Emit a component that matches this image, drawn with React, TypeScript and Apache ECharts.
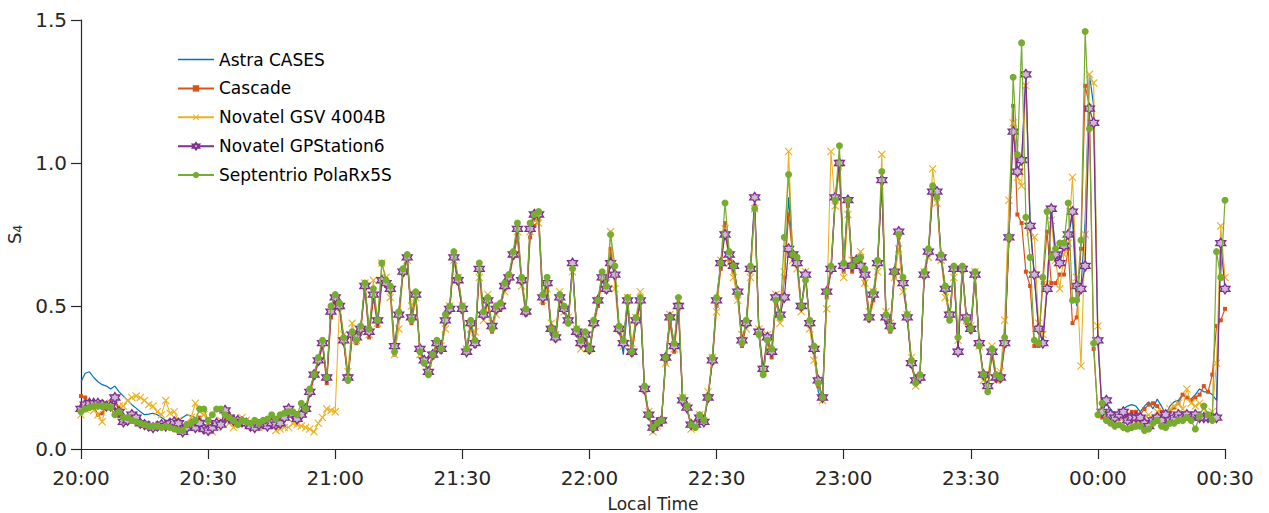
import React, { useEffect, useRef } from "react";
import * as echarts from "echarts";

// Minutes after 20:00 local time are the array indices (one sample per minute).
const seriesNames = [
  "Astra CASES",
  "Cascade",
  "Novatel GSV 4004B",
  "Novatel GPStation6",
  "Septentrio PolaRx5S",
];

const xTickLabels = ["20:00", "20:30", "21:00", "21:30", "22:00", "22:30", "23:00", "23:30", "00:00", "00:30"];

const astraValues = [
  0.235, 0.265, 0.27, 0.25, 0.235, 0.225, 0.22, 0.21, 0.22, 0.2,
  0.185, 0.17, 0.155, 0.143, 0.13, 0.12, 0.122, 0.125, 0.12, 0.11,
  0.1, 0.1, 0.1, 0.1, 0.11, 0.12, 0.115, 0.11, 0.1, 0.1,
  0.09, 0.095, 0.1, 0.095, 0.12, 0.115, 0.1, 0.1, 0.1, 0.095,
  0.09, 0.09, 0.095, 0.1, 0.095, 0.1, 0.1, 0.1, 0.12, 0.14,
  0.13, 0.115, 0.13, 0.14, 0.2, 0.26, 0.31, 0.37, 0.24, 0.48,
  0.53, 0.5, 0.38, 0.25, 0.41, 0.37, 0.42, 0.57, 0.4, 0.55,
  0.44, 0.6, 0.59, 0.56, 0.35, 0.48, 0.62, 0.67, 0.46, 0.54,
  0.34, 0.31, 0.27, 0.33, 0.37, 0.35, 0.46, 0.49, 0.67, 0.58,
  0.49, 0.35, 0.44, 0.38, 0.63, 0.47, 0.52, 0.43, 0.49, 0.5,
  0.57, 0.6, 0.68, 0.75, 0.59, 0.48, 0.76, 0.8, 0.8, 0.52,
  0.58, 0.42, 0.4, 0.53, 0.49, 0.45, 0.64, 0.41, 0.37, 0.39,
  0.33, 0.44, 0.51, 0.61, 0.57, 0.68, 0.62, 0.42, 0.33, 0.5,
  0.34, 0.45, 0.5, 0.21, 0.12, 0.07, 0.085, 0.1, 0.31, 0.45,
  0.36, 0.5, 0.17, 0.14, 0.08, 0.075, 0.11, 0.09, 0.18, 0.31,
  0.51, 0.64, 0.78, 0.68, 0.63, 0.55, 0.37, 0.44, 0.63, 0.86,
  0.4, 0.26, 0.38, 0.33, 0.52, 0.46, 0.6, 0.88, 0.68, 0.66,
  0.49, 0.6, 0.44, 0.34, 0.2, 0.17, 0.54, 0.62, 0.87, 1.0,
  0.64, 0.86, 0.64, 0.66, 0.64, 0.6, 0.47, 0.53, 0.65, 0.93,
  0.46, 0.42, 0.62, 0.75, 0.59, 0.47, 0.3, 0.23, 0.25, 0.6,
  0.69, 0.9, 0.9, 0.67, 0.56, 0.45, 0.63, 0.36, 0.63, 0.45,
  0.41, 0.61, 0.37, 0.25, 0.21, 0.34, 0.25, 0.25, 0.38, 0.74,
  1.15, 0.98, 1.0, 1.3, 0.8, 0.6, 0.42, 0.38, 0.56, 0.84,
  0.7, 0.66, 0.72, 0.74, 0.82, 0.5, 0.56, 0.8, 1.31, 1.2,
  0.38, 0.13, 0.16, 0.14, 0.12, 0.13, 0.14, 0.15, 0.155, 0.15,
  0.13, 0.15, 0.165, 0.14, 0.175, 0.15, 0.12, 0.15, 0.165, 0.17,
  0.19, 0.18, 0.175, 0.19, 0.21, 0.2, 0.2, 0.19, 0.17, 0.72,
  0.72,
];

const cascadeValues = [
  0.185, 0.18, 0.16, 0.15, 0.12, 0.125, 0.15, 0.14, 0.12, 0.115,
  0.1, 0.1, 0.11, 0.105, 0.09, 0.085, 0.08, 0.08, 0.085, 0.08,
  0.085, 0.09, 0.09, 0.085, 0.07, 0.08, 0.08, 0.09, 0.11, 0.08,
  0.075, 0.08, 0.09, 0.09, 0.1, 0.105, 0.1, 0.095, 0.09, 0.09,
  0.085, 0.08, 0.09, 0.095, 0.08, 0.09, 0.09, 0.1, 0.11, 0.13,
  0.12, 0.1, 0.12, 0.13, 0.19, 0.25, 0.3, 0.36, 0.23, 0.46,
  0.52, 0.49, 0.37, 0.24, 0.39, 0.37, 0.41, 0.56, 0.39, 0.53,
  0.43, 0.58, 0.57, 0.55, 0.33, 0.46, 0.61, 0.66, 0.44, 0.53,
  0.34, 0.3, 0.26, 0.32, 0.36, 0.34, 0.44, 0.48, 0.66, 0.58,
  0.48, 0.34, 0.43, 0.36, 0.62, 0.46, 0.51, 0.41, 0.48, 0.49,
  0.56, 0.59, 0.67, 0.74, 0.58, 0.47, 0.74, 0.78, 0.8, 0.51,
  0.56, 0.41, 0.38, 0.52, 0.48, 0.44, 0.63, 0.4, 0.36, 0.39,
  0.34, 0.43, 0.5, 0.59, 0.55, 0.7, 0.6, 0.41, 0.36, 0.51,
  0.33, 0.44, 0.51, 0.2, 0.11, 0.07, 0.085, 0.1, 0.3, 0.44,
  0.34, 0.49, 0.16, 0.14, 0.08, 0.08, 0.12, 0.1, 0.19, 0.3,
  0.5, 0.63, 0.79, 0.66, 0.62, 0.53, 0.36, 0.43, 0.62, 0.85,
  0.4, 0.27, 0.38, 0.32, 0.51, 0.46, 0.6, 0.82, 0.67, 0.64,
  0.49, 0.6, 0.43, 0.34, 0.22, 0.18, 0.53, 0.62, 0.86, 0.98,
  0.62, 0.85, 0.62, 0.64, 0.63, 0.58, 0.45, 0.52, 0.64, 0.93,
  0.45, 0.41, 0.6, 0.74, 0.58, 0.46, 0.29, 0.23, 0.25, 0.6,
  0.68, 0.89, 0.88, 0.66, 0.55, 0.45, 0.62, 0.35, 0.62, 0.44,
  0.41, 0.6, 0.36, 0.25, 0.21, 0.33, 0.24, 0.24, 0.36, 0.73,
  1.2, 0.82, 0.79, 0.62, 0.57, 0.36, 0.36, 0.58, 0.76, 0.58,
  0.58, 0.61, 0.61, 0.7, 0.44, 0.46, 0.7, 1.27, 1.2, 0.35,
  0.12, 0.11, 0.11, 0.12, 0.11, 0.12, 0.11, 0.12, 0.13, 0.13,
  0.12, 0.14, 0.155, 0.16, 0.15, 0.13, 0.12, 0.13, 0.145, 0.16,
  0.19, 0.18, 0.17, 0.18, 0.19, 0.22, 0.2, 0.26, 0.43, 0.45,
  0.49,
];

const gsvValues = [
  0.12, 0.14, 0.15, 0.135, 0.12, 0.095, 0.16, 0.16, 0.155, 0.15,
  0.15, 0.17, 0.18, 0.185, 0.18, 0.17, 0.155, 0.15, 0.13, 0.12,
  0.17, 0.125, 0.13, 0.1, 0.085, 0.085, 0.11, 0.16, 0.13, 0.12,
  0.09, 0.06, 0.075, 0.1, 0.11, 0.09, 0.075, 0.09, 0.11, 0.1,
  0.09, 0.08, 0.075, 0.08, 0.09, 0.085, 0.065, 0.07, 0.075, 0.075,
  0.09, 0.085, 0.08, 0.075, 0.07, 0.06, 0.09, 0.11, 0.14, 0.135,
  0.13, 0.5, 0.4, 0.27, 0.44, 0.38, 0.41, 0.58, 0.4, 0.59,
  0.44, 0.65, 0.6, 0.53, 0.33, 0.42, 0.62, 0.66, 0.5, 0.53,
  0.33, 0.31, 0.28, 0.33, 0.36, 0.36, 0.42, 0.5, 0.66, 0.6,
  0.5, 0.35, 0.42, 0.41, 0.6, 0.45, 0.54, 0.44, 0.47, 0.5,
  0.55, 0.6, 0.68, 0.76, 0.57, 0.48, 0.76, 0.8, 0.79, 0.52,
  0.56, 0.44, 0.4, 0.55, 0.48, 0.46, 0.62, 0.42, 0.35, 0.4,
  0.35, 0.44, 0.52, 0.6, 0.58, 0.76, 0.56, 0.42, 0.36, 0.53,
  0.37, 0.46, 0.55, 0.21, 0.13, 0.06, 0.08, 0.1, 0.3, 0.47,
  0.35, 0.52, 0.18, 0.15, 0.07, 0.09, 0.12, 0.1, 0.2, 0.32,
  0.48, 0.66, 0.77, 0.65, 0.6, 0.52, 0.4, 0.42, 0.6, 0.84,
  0.42, 0.28, 0.4, 0.34, 0.54, 0.44, 0.62, 1.04, 0.66, 0.63,
  0.48, 0.62, 0.42, 0.31, 0.24, 0.17, 0.49, 1.04, 0.85, 1.0,
  0.6, 0.82, 0.66, 0.65, 0.69, 0.58, 0.48, 0.55, 0.62, 1.03,
  0.48, 0.44, 0.6, 0.7, 0.55, 0.47, 0.32, 0.22, 0.25, 0.62,
  0.67, 0.98, 0.86, 0.66, 0.53, 0.47, 0.6, 0.38, 0.63, 0.45,
  0.43, 0.62, 0.36, 0.24, 0.25, 0.36, 0.24, 0.27, 0.45, 0.87,
  1.14, 0.95, 0.92, 1.27, 0.76, 0.74, 0.44, 0.4, 0.58, 0.8,
  0.66, 0.56, 0.68, 0.72, 0.95, 0.6, 0.29, 0.75, 1.31, 1.28,
  0.43, 0.12, 0.13, 0.11, 0.1, 0.11, 0.12, 0.1, 0.08, 0.09,
  0.1, 0.11, 0.12, 0.1, 0.13, 0.12, 0.11, 0.14, 0.15, 0.16,
  0.14, 0.21, 0.16, 0.15, 0.16, 0.14, 0.12, 0.13, 0.3, 0.78,
  0.6,
];

const gpStationValues = [
  0.14, 0.155, 0.16, 0.16, 0.16, 0.155, 0.15, 0.15, 0.18, 0.13,
  0.095, 0.1, 0.12, 0.11, 0.09, 0.085, 0.08, 0.075, 0.08, 0.085,
  0.08, 0.09, 0.095, 0.09, 0.06, 0.075, 0.085, 0.075, 0.09, 0.07,
  0.065, 0.075, 0.09, 0.085, 0.135, 0.11, 0.1, 0.1, 0.095, 0.09,
  0.08, 0.075, 0.085, 0.09, 0.08, 0.09, 0.085, 0.09, 0.11, 0.14,
  0.12, 0.105, 0.12, 0.14, 0.2, 0.26, 0.31, 0.37, 0.25, 0.48,
  0.53, 0.5, 0.38, 0.25, 0.4, 0.39, 0.42, 0.57, 0.41, 0.54,
  0.45, 0.59, 0.58, 0.56, 0.36, 0.47, 0.62, 0.67, 0.46, 0.54,
  0.35, 0.31, 0.27, 0.33, 0.37, 0.35, 0.45, 0.49, 0.67, 0.59,
  0.49, 0.34, 0.44, 0.37, 0.63, 0.47, 0.52, 0.43, 0.49, 0.5,
  0.57, 0.6, 0.68, 0.77, 0.59, 0.48, 0.77, 0.82, 0.82, 0.53,
  0.58, 0.42, 0.39, 0.53, 0.49, 0.45, 0.65, 0.41, 0.37, 0.4,
  0.35, 0.44, 0.52, 0.6, 0.56, 0.65, 0.61, 0.42, 0.37, 0.52,
  0.34, 0.45, 0.52, 0.21, 0.12, 0.075, 0.09, 0.1, 0.32, 0.46,
  0.36, 0.5, 0.17, 0.145, 0.085, 0.085, 0.11, 0.095, 0.18, 0.31,
  0.52, 0.65, 0.75, 0.68, 0.64, 0.55, 0.38, 0.44, 0.63, 0.88,
  0.41, 0.28, 0.39, 0.34, 0.53, 0.47, 0.53, 0.7, 0.68, 0.65,
  0.5, 0.61, 0.44, 0.35, 0.24, 0.18, 0.55, 0.63, 0.88, 1.0,
  0.64, 0.87, 0.64, 0.66, 0.64, 0.61, 0.46, 0.54, 0.65, 0.94,
  0.46, 0.43, 0.62, 0.76, 0.58, 0.46, 0.3, 0.24, 0.25, 0.61,
  0.69, 0.9, 0.9, 0.67, 0.56, 0.47, 0.63, 0.34, 0.63, 0.46,
  0.42, 0.61, 0.37, 0.26, 0.22, 0.34, 0.25, 0.25, 0.37, 0.74,
  1.11, 0.97, 1.01, 1.31, 0.78, 0.61, 0.42, 0.37, 0.56, 0.84,
  0.68, 0.65, 0.71, 0.75, 0.83, 0.57, 0.56, 0.64, 1.19, 1.14,
  0.38, 0.13, 0.17, 0.12, 0.11, 0.12, 0.13, 0.1, 0.11, 0.11,
  0.11, 0.09, 0.08, 0.1, 0.11, 0.1, 0.12, 0.1, 0.11, 0.12,
  0.11, 0.12, 0.11, 0.12, 0.11, 0.11, 0.11, 0.11, 0.11, 0.72,
  0.56,
];

const polaRxValues = [
  0.13, 0.14, 0.145, 0.15, 0.15, 0.15, 0.15, 0.145, 0.12, 0.13,
  0.11, 0.11, 0.1, 0.095, 0.09, 0.085, 0.08, 0.08, 0.08, 0.075,
  0.08, 0.075, 0.07, 0.065, 0.065, 0.085, 0.09, 0.1, 0.14, 0.14,
  0.1, 0.12, 0.14, 0.14, 0.12, 0.11, 0.1, 0.085, 0.1, 0.095,
  0.09, 0.1, 0.09, 0.1, 0.105, 0.12, 0.105, 0.12, 0.125, 0.13,
  0.13, 0.12, 0.16, 0.14, 0.21, 0.26, 0.32, 0.38, 0.25, 0.5,
  0.54, 0.51, 0.39, 0.24, 0.41, 0.38, 0.43, 0.58, 0.42, 0.56,
  0.45, 0.65, 0.59, 0.57, 0.34, 0.48, 0.63, 0.68, 0.45, 0.55,
  0.34, 0.3, 0.26, 0.33, 0.38, 0.35, 0.47, 0.5, 0.69, 0.6,
  0.5, 0.35, 0.45, 0.38, 0.65, 0.48, 0.53, 0.42, 0.5, 0.51,
  0.58, 0.61, 0.69, 0.79, 0.6, 0.49, 0.79, 0.82, 0.83, 0.54,
  0.6, 0.42, 0.4, 0.54, 0.5, 0.44, 0.63, 0.42, 0.38, 0.41,
  0.35, 0.45, 0.52, 0.62, 0.57, 0.75, 0.64, 0.43, 0.38, 0.53,
  0.34, 0.46, 0.53, 0.22, 0.12, 0.075, 0.09, 0.1, 0.32, 0.46,
  0.37, 0.53, 0.18, 0.15, 0.085, 0.075, 0.12, 0.1, 0.18, 0.32,
  0.53, 0.65, 0.86, 0.69, 0.64, 0.54, 0.37, 0.45, 0.64, 0.84,
  0.4, 0.26, 0.38, 0.35, 0.52, 0.46, 0.74, 0.96, 0.68, 0.67,
  0.5, 0.59, 0.45, 0.36, 0.23, 0.18, 0.55, 0.64, 0.87, 1.06,
  0.65, 0.87, 0.64, 0.66, 0.67, 0.63, 0.46, 0.55, 0.66, 0.97,
  0.47, 0.42, 0.62, 0.75, 0.6, 0.47, 0.31, 0.23, 0.26, 0.62,
  0.7, 0.92, 0.88, 0.68, 0.57, 0.45, 0.64, 0.39, 0.64, 0.45,
  0.42, 0.62, 0.36, 0.26, 0.2, 0.35, 0.26, 0.25, 0.39, 0.74,
  1.3, 1.03, 1.42, 0.81, 0.67, 0.38, 0.37, 0.6, 0.83, 0.67,
  0.7, 0.72, 0.72, 0.86, 0.52, 0.52, 0.73, 1.46, 1.12, 0.37,
  0.12, 0.16, 0.1, 0.09, 0.08, 0.085, 0.075, 0.07, 0.075, 0.08,
  0.08, 0.065, 0.07, 0.09, 0.1, 0.08, 0.075, 0.09, 0.09, 0.1,
  0.1, 0.11, 0.1, 0.07, 0.115, 0.15, 0.12, 0.1, 0.69, 0.6,
  0.87,
];

const hexagramSymbol =
  "path://M5,0L6.44,2.5L9.33,2.5L7.89,5L9.33,7.5L6.44,7.5L5,10L3.56,7.5L0.67,7.5L2.11,5L0.67,2.5L3.56,2.5Z";
const crossSymbol = "path://M0,1L1,0L5,4L9,0L10,1L6,5L10,9L9,10L5,6L1,10L0,9L4,5Z";
const plainLineIcon = "path://M0,0L36,0L36,1.3L0,1.3Z";

const FONT = "DejaVu Sans";
const AXIS_COLOR = "#262626";

function toPairs(values: number[]) {
  return values.map((v, i) => [i, v]);
}

export default function App() {
  const ref = useRef<HTMLDivElement>(null);

  useEffect(() => {
    if (!ref.current) return;
    const chart = echarts.init(ref.current, undefined, { renderer: "svg" });
    chart.setOption({
      animation: false,
      backgroundColor: "#ffffff",
      grid: {
        left: 81,
        right: 44,
        top: 20,
        bottom: 64,
        containLabel: false,
        outerBoundsMode: "none",
      },
      legend: {
        orient: "vertical",
        left: 177,
        top: 51,
        padding: 0,
        itemWidth: 36,
        itemHeight: 8,
        itemGap: 11.9,
        symbolKeepAspect: true,
        textStyle: { fontFamily: FONT, fontSize: 17, color: "#000000" },
        data: [
          { name: seriesNames[0], icon: plainLineIcon },
          seriesNames[1],
          seriesNames[2],
          seriesNames[3],
          seriesNames[4],
        ],
      },
      xAxis: {
        type: "value",
        min: 0,
        max: 270,
        interval: 30,
        name: "Local Time",
        nameLocation: "middle",
        nameGap: 46,
        nameTextStyle: { fontFamily: FONT, fontSize: 17, color: AXIS_COLOR },
        axisLine: { show: true, lineStyle: { color: AXIS_COLOR, width: 1.2 } },
        axisTick: { show: true, inside: false, length: 10, lineStyle: { color: AXIS_COLOR, width: 1.2 } },
        axisLabel: {
          fontFamily: FONT,
          fontSize: 20,
          color: AXIS_COLOR,
          margin: 19,
          formatter: (v: number) => xTickLabels[Math.round(v / 30)] ?? "",
        },
        splitLine: { show: false },
      },
      yAxis: {
        type: "value",
        min: 0,
        max: 1.5,
        interval: 0.5,
        name: "{s|S}{sub|4}",
        nameLocation: "middle",
        nameRotate: 90,
        nameGap: 52,
        nameTextStyle: {
          fontFamily: FONT,
          color: AXIS_COLOR,
          rich: {
            s: { fontFamily: FONT, fontSize: 18, color: AXIS_COLOR },
            sub: { fontFamily: FONT, fontSize: 12, color: AXIS_COLOR, padding: [8, 0, 0, 0] },
          },
        },
        axisLine: { show: true, lineStyle: { color: AXIS_COLOR, width: 1.2 } },
        axisTick: { show: true, inside: false, length: 10, lineStyle: { color: AXIS_COLOR, width: 1.2 } },
        axisLabel: {
          fontFamily: FONT,
          fontSize: 20,
          color: AXIS_COLOR,
          margin: 14,
          formatter: (v: number) => v.toFixed(1),
        },
        splitLine: { show: false },
      },
      series: [
        {
          name: seriesNames[0],
          type: "line",
          data: toPairs(astraValues),
          symbol: "none",
          color: "#0072BD",
          lineStyle: { color: "#0072BD", width: 1.2 },
          z: 2,
        },
        {
          name: seriesNames[1],
          type: "line",
          data: toPairs(cascadeValues),
          symbol: "rect",
          symbolSize: 4,
          color: "#D95319",
          itemStyle: { color: "#D95319" },
          lineStyle: { color: "#D95319", width: 1.2 },
          z: 3,
        },
        {
          name: seriesNames[2],
          type: "line",
          data: toPairs(gsvValues),
          symbol: crossSymbol,
          symbolSize: 8,
          color: "#EDB120",
          itemStyle: { color: "#EDB120" },
          lineStyle: { color: "#EDB120", width: 1.1 },
          z: 4,
        },
        {
          name: seriesNames[3],
          type: "line",
          data: toPairs(gpStationValues),
          symbol: hexagramSymbol,
          symbolSize: 10,
          color: "#7E2F8E",
          itemStyle: { color: "#cdb8d8", borderColor: "#7E2F8E", borderWidth: 1.3 },
          lineStyle: { color: "#7E2F8E", width: 1.2 },
          z: 5,
        },
        {
          name: seriesNames[4],
          type: "line",
          data: toPairs(polaRxValues),
          symbol: "circle",
          symbolSize: 7,
          color: "#77AC30",
          itemStyle: { color: "#77AC30" },
          lineStyle: { color: "#77AC30", width: 1.2 },
          z: 6,
        },
      ],
    });
    return () => chart.dispose();
  }, []);

  return (
    <div
      ref={ref}
      style={{ position: "fixed", left: 0, top: 0, width: 1269, height: 513, background: "#ffffff" }}
    />
  );
}
